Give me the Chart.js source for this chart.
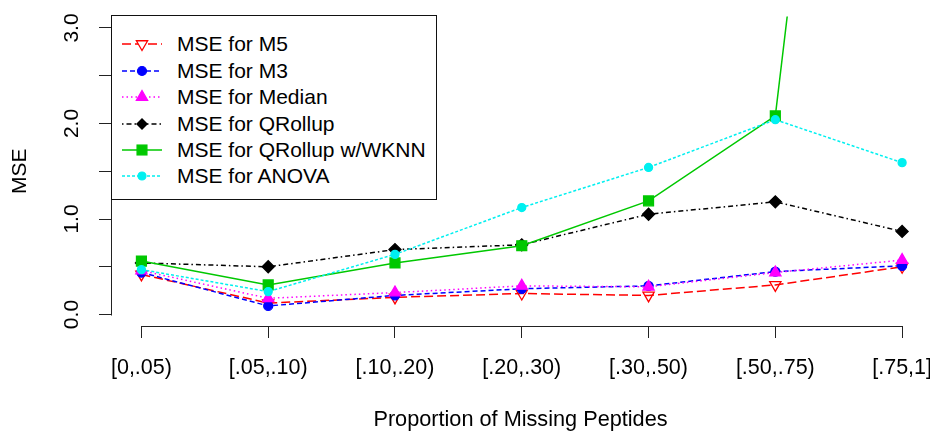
<!DOCTYPE html>
<html>
<head>
<meta charset="utf-8">
<script src="https://cdn.jsdelivr.net/npm/chart.js@4.4.1/dist/chart.umd.min.js"></script>
<style>
  html, body { margin: 0; padding: 0; background: #fff; }
  #wrap { position: relative; width: 930px; height: 433px; }
  #c { position: absolute; left: 0; top: 0; }
  #legend {
    position: absolute; left: 111px; top: 15px; width: 326px; height: 185px;
    border: 1px solid #111; box-sizing: border-box; background: #fff;
    font-family: "Liberation Sans", Arial, sans-serif; font-size: 21px; color: #000;
  }
  .row { position: absolute; left: 0; height: 26px; width: 100%; }
  .row svg { position: absolute; left: 5px; top: 0; }
  .row span { position: absolute; left: 65px; top: 0; line-height: 26px; white-space: nowrap; }
</style>
</head>
<body>
<div id="wrap">
  <canvas id="c" width="930" height="433"></canvas>
  <div id="legend"></div>
</div>
<script>
// ---- data ----
const categories = ["[0,.05)", "[.05,.10)", "[.10,.20)", "[.20,.30)", "[.30,.50)", "[.50,.75)", "[.75,1]"];
const seriesNames = ["MSE for M5", "MSE for M3", "MSE for Median", "MSE for QRollup", "MSE for QRollup w/WKNN", "MSE for ANOVA"];
const mseM5      = [0.42, 0.12, 0.18, 0.22, 0.20, 0.31, 0.50];
const mseM3      = [0.44, 0.09, 0.20, 0.27, 0.30, 0.45, 0.51];
const mseMedian  = [0.46, 0.17, 0.23, 0.30, 0.29, 0.44, 0.57];
const mseQRollup = [0.54, 0.50, 0.68, 0.73, 1.05, 1.18, 0.87];
const mseWKNN    = [0.56, 0.31, 0.54, 0.72, 1.19, 2.08, 13.2];
const mseANOVA   = [0.47, 0.24, 0.63, 1.12, 1.54, 2.04, 1.59];
const yTickValues = [0, 0.5, 1, 1.5, 2, 2.5, 3];
const yTickLabels = ["0.0", "", "1.0", "", "2.0", "", "3.0"];

const FONT = '"Liberation Sans", Arial, sans-serif';

const styles = [
  { color: '#FF0000', dash: [9, 4], point: 'triangle', rot: 180, r: 6.5, fill: 'rgba(255,255,255,0)' },
  { color: '#0000FF', dash: [5, 3], point: 'circle', rot: 0, r: 4.5, fill: '#0000FF' },
  { color: '#FF00FF', dash: [1.5, 3], point: 'triangle', rot: 0, r: 6.5, fill: '#FF00FF' },
  { color: '#000000', dash: [1.5, 3, 5, 3], point: 'rectRot', rot: 0, r: 6, fill: '#000000' },
  { color: '#00C800', dash: [], point: 'rect', rot: 0, r: 7, fill: '#00C800' },
  { color: '#00F0F0', dash: [3, 2], point: 'circle', rot: 0, r: 4, fill: '#00F0F0' }
];
const allSeries = [mseM5, mseM3, mseMedian, mseQRollup, mseWKNN, mseANOVA];

const datasets = allSeries.map((vals, i) => {
  const s = styles[i];
  return {
    label: seriesNames[i],
    data: vals.map((v, j) => ({ x: j + 1, y: v })),
    borderColor: s.color,
    borderWidth: 1.5,
    borderDash: s.dash,
    pointStyle: s.point,
    pointRotation: s.rot,
    pointRadius: s.r,
    pointBackgroundColor: s.fill,
    pointBorderColor: s.color,
    pointBorderWidth: 1.3,
    tension: 0,
    fill: false,
    order: 6 - i
  };
});

const axisLines = {
  id: 'axisLines',
  afterDraw(chart) {
    const { ctx, scales: { x, y }, chartArea } = chart;
    ctx.save();
    ctx.strokeStyle = '#222';
    ctx.lineWidth = 1;
    ctx.setLineDash([]);
    ctx.beginPath();
    const yb = Math.round(chartArea.bottom) + 0.5;
    ctx.moveTo(Math.round(x.getPixelForValue(1)) + 0.5, yb);
    ctx.lineTo(Math.round(x.getPixelForValue(7)) + 0.5, yb);
    const xl = Math.round(chartArea.left) + 0.5;
    ctx.moveTo(xl, Math.round(y.getPixelForValue(0)) + 0.5);
    ctx.lineTo(xl, Math.round(y.getPixelForValue(3)) + 0.5);
    ctx.stroke();
    ctx.restore();
  }
};

function zeroPad(s) { s.paddingTop = 0; s.paddingBottom = 0; s.paddingLeft = 0; s.paddingRight = 0; }

new Chart(document.getElementById('c'), {
  type: 'line',
  data: { datasets },
  options: {
    responsive: false,
    animation: false,
    layout: { autoPadding: false, padding: { top: 16.5, right: 0, left: 0, bottom: 0 } },
    plugins: { legend: { display: false }, tooltip: { enabled: false } },
    scales: {
      x: {
        type: 'linear', min: 0.76, max: 7.22,
        afterBuildTicks: s => { s.ticks = categories.map((c, i) => ({ value: i + 1 })); },
        afterFit: s => { s.height = 433 - 326; zeroPad(s); },
        ticks: {
          callback: v => categories[Math.round(v) - 1],
          autoSkip: false, maxRotation: 0, minRotation: 0,
          font: { family: FONT, size: 21.5 }, color: '#000', padding: 17
        },
        grid: { drawOnChartArea: false, drawTicks: true, tickLength: 12, color: '#222', lineWidth: 1 },
        border: { display: false },
        title: { display: true, text: 'Proportion of Missing Peptides', color: '#000',
                 font: { family: FONT, size: 21.7 }, padding: { top: 0, bottom: 0 } }
      },
      y: {
        type: 'linear', min: -0.12, max: 3.12,
        afterBuildTicks: s => { s.ticks = yTickValues.map(v => ({ value: v })); },
        afterFit: s => { s.width = 111; zeroPad(s); },
        ticks: {
          callback: (v, i) => yTickLabels[i],
          autoSkip: false, minRotation: 90, maxRotation: 90, crossAlign: 'center',
          font: { family: FONT, size: 21 }, color: '#000', padding: 12
        },
        grid: { drawOnChartArea: false, drawTicks: true, tickLength: 12, color: '#222', lineWidth: 1 },
        border: { display: false },
        title: { display: true, text: 'MSE', color: '#000',
                 font: { family: FONT, size: 21 }, padding: { top: 8, bottom: 0 } }
      }
    }
  },
  plugins: [axisLines]
});

// ---- legend (HTML) ----
const legend = document.getElementById('legend');
const rowTops = [15, 41.5, 68, 94.5, 121, 147];
function markerSvg(s) {
  const cx = 25, cy = 13;
  const r = s.r;
  if (s.point === 'circle') return `<circle cx="${cx}" cy="${cy}" r="${r}" fill="${s.fill}" stroke="${s.color}" stroke-width="1.2"/>`;
  if (s.point === 'rect') { const h = r * Math.SQRT1_2; return `<rect x="${cx - h}" y="${cy - h}" width="${2 * h}" height="${2 * h}" fill="${s.fill}" stroke="${s.color}" stroke-width="1.2"/>`; }
  if (s.point === 'rectRot') return `<polygon points="${cx},${cy - r} ${cx + r},${cy} ${cx},${cy + r} ${cx - r},${cy}" fill="${s.fill}"/>`;
  if (s.point === 'triangle') {
    const pts = [0, 120, 240].map(a => {
      const rad = (a + s.rot) * Math.PI / 180;
      return `${cx + Math.sin(rad) * r},${cy - Math.cos(rad) * r}`;
    }).join(' ');
    return `<polygon points="${pts}" fill="${s.fill === 'rgba(255,255,255,0)' ? '#fff' : s.fill}" stroke="${s.color}" stroke-width="1.3"/>`;
  }
  return '';
}
seriesNames.forEach((name, i) => {
  const s = styles[i];
  const row = document.createElement('div');
  row.className = 'row';
  row.style.top = rowTops[i] + 'px';
  row.innerHTML = `<svg width="50" height="26"><line x1="5" y1="13" x2="45" y2="13" stroke="${s.color}" stroke-width="1.5" stroke-dasharray="${s.dash.length ? s.dash.join(',') : 'none'}"/>${markerSvg(s)}</svg><span>${name}</span>`;
  legend.appendChild(row);
});
</script>
</body>
</html>
